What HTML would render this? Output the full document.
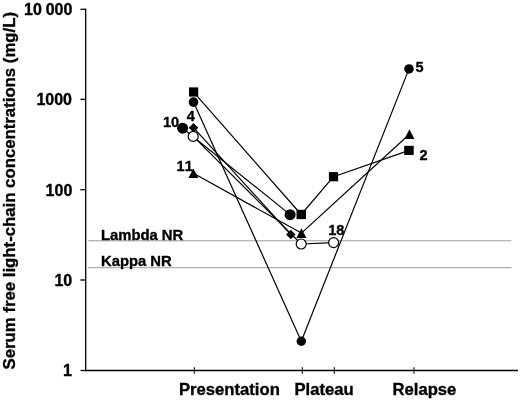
<!DOCTYPE html>
<html>
<head>
<meta charset="utf-8">
<title>Serum free light-chain concentrations</title>
<style>
html,body{margin:0;padding:0;background:#fff;}
body{width:520px;height:401px;overflow:hidden;}
svg{display:block;font-family:"Liberation Sans",Arial,Helvetica,sans-serif;font-weight:bold;fill:#000;}
text{stroke:#000;stroke-width:0.35px;stroke-linejoin:round;}
</style>
</head>
<body>
<svg width="520" height="401" viewBox="0 0 520 401">
<rect x="0" y="0" width="520" height="401" fill="#fff"/>
<!-- reference lines -->
<g stroke="#9a9a9a" stroke-width="1" fill="none">
<line x1="88.3" y1="240.8" x2="511.5" y2="240.8"/>
<line x1="88.3" y1="267.7" x2="511.5" y2="267.7"/>
</g>
<!-- axes -->
<g stroke="#000" stroke-width="1.3" fill="none">
<line x1="85.7" y1="8.7" x2="85.7" y2="371.1"/>
<line x1="85.1" y1="370.5" x2="518" y2="370.5"/>
<line x1="80.5" y1="9.3" x2="86" y2="9.3"/>
<line x1="80.5" y1="99.3" x2="86" y2="99.3"/>
<line x1="80.3" y1="189.7" x2="86" y2="189.7"/>
<line x1="80.3" y1="280.0" x2="86" y2="280.0"/>
<line x1="80.5" y1="370.5" x2="86" y2="370.5"/>
<line x1="194.3" y1="367.2" x2="194.3" y2="373.8" stroke-width="1"/>
<line x1="302.3" y1="367.2" x2="302.3" y2="373.8" stroke-width="1"/>
<line x1="334.3" y1="367.2" x2="334.3" y2="373.8" stroke-width="1"/>
<line x1="414" y1="367.2" x2="414" y2="373.8" stroke-width="1"/>
</g>
<!-- series lines -->
<g stroke="#000" stroke-width="1.2" fill="none" stroke-linejoin="round">
<polyline points="193.6,92.1 301.2,214.5 333.5,176.7 409.1,150.4"/>
<polyline points="193.5,102.1 301.3,341.2 409,68.9"/>
<polyline points="182.6,128.2 290.1,214.6"/>
<polyline points="193.5,127.7 290.8,234.5"/>
<polyline points="193.2,136.4 301.2,244 333.6,242.6"/>
<polyline points="193.4,173.3 301.4,233.1 409.4,134.3"/>
</g>
<!-- markers -->
<g stroke="none" fill="#000">
<rect x="189" y="87.4" width="9.2" height="9.2"/>
<rect x="296.5" y="209.8" width="9.5" height="9.3"/>
<rect x="328.9" y="172.1" width="9.2" height="9.2"/>
<rect x="404.2" y="145.8" width="9.5" height="9.2"/>
<circle cx="193.5" cy="102.1" r="4.85"/>
<circle cx="301.3" cy="341.2" r="4.7"/>
<circle cx="409" cy="68.9" r="4.75"/>
<circle cx="182.6" cy="128.2" r="5.5"/>
<circle cx="290.1" cy="214.7" r="5.5"/>
<polygon points="193.5,122.9 198.3,127.7 193.5,132.5 188.7,127.7"/>
<polygon points="290.8,229.8 295.5,234.5 290.8,239.2 286.1,234.5"/>
<polygon points="193.4,168.5 198.4,178.1 188.4,178.1"/>
<polygon points="301.4,228.3 306.4,237.9 296.4,237.9"/>
<polygon points="409.4,129.3 414.4,138.9 404.4,138.9"/>
</g>
<g stroke="#000" stroke-width="1.2" fill="#fff">
<circle cx="193.2" cy="136.4" r="5"/>
<circle cx="301.2" cy="244" r="5"/>
<circle cx="333.6" cy="242.6" r="5"/>
</g>
<!-- text -->
<g font-size="16px" text-anchor="end">
<text x="72.4" y="14.9" word-spacing="-0.6px">10 000</text>
<text x="72.0" y="105">1000</text>
<text x="72.3" y="195.6">100</text>
<text x="72.2" y="285.9">10</text>
<text x="72.0" y="375.8">1</text>
</g>
<text font-size="16.75px" text-anchor="middle" transform="translate(15.3,190.7) rotate(-90)">Serum free light-chain concentrations (mg/L)</text>
<g font-size="16.65px">
<text x="179.0" y="395">Presentation</text>
<text x="294.5" y="395">Plateau</text>
<text x="392.5" y="395.1">Relapse</text>
</g>
<g font-size="14.8px">
<text x="101.0" y="239.9">Lambda NR</text>
<text x="101.0" y="265.6">Kappa NR</text>
</g>
<g font-size="15.3px">
<text transform="translate(163.0 127.1) scale(0.95 1)" style="font-kerning:none">10</text>
<text transform="translate(186.7 120.5) scale(0.95 1)" style="font-kerning:none">4</text>
<text transform="translate(176.6 171.2) scale(0.95 1)" style="font-kerning:none">11</text>
<text transform="translate(328.2 235.4) scale(0.95 1)" style="font-kerning:none">18</text>
<text transform="translate(415.5 72.1) scale(0.95 1)" style="font-kerning:none">5</text>
<text transform="translate(419.5 160.1) scale(0.95 1)" style="font-kerning:none">2</text>
</g>
</svg>
</body>
</html>
